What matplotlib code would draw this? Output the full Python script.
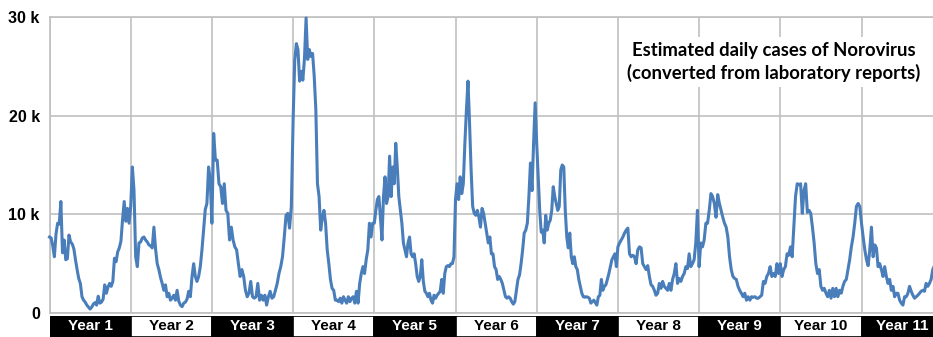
import matplotlib
matplotlib.use("Agg")
import matplotlib.pyplot as plt
import numpy as np

# estimated daily cases (thousands), one list per season, roughly weekly readings
year1 = [7.7, 7.6, 6.8, 5.7, 8.0, 9.1, 9.0, 11.3, 6.1, 7.4, 5.4, 5.5, 7.9, 7.2, 7.0,
         6.5, 5.4, 4.4, 3.5, 3.0, 1.65, 1.3, 1.1, 0.8, 0.6, 0.4, 0.6, 0.9, 1.05, 0.8,
         1.7, 1.0, 1.1, 1.4, 2.85, 2.0, 2.6, 3.0, 2.7, 3.2, 5.55, 5.2, 6.2, 6.6, 7.3,
         9.5, 11.3, 9.3, 10.6, 9.1]
year2 = [10.8, 14.8, 12.4, 5.7, 4.7, 7.1, 7.2, 7.6, 7.7, 7.4, 7.2, 6.9, 6.8, 6.6,
         8.7, 6.5, 5.0, 4.4, 3.6, 3.0, 2.3, 2.85, 1.65, 2.0, 1.3, 1.5, 1.8, 1.3, 2.3,
         1.2, 0.8, 0.64, 1.0, 1.1, 1.4, 2.2, 1.65, 3.7, 5.0, 3.7, 3.2, 3.7, 4.7, 6.4,
         8.4, 10.5, 11.1, 14.8, 13.5]
year3 = [9.1, 18.2, 15.5, 15.5, 13.1, 12.8, 11.1, 13.1, 10.4, 10.1, 7.4, 8.7, 7.4,
         6.7, 6.4, 5.0, 3.7, 4.4, 3.7, 2.3, 1.65, 2.0, 3.2, 1.65, 1.5, 1.65, 3.0, 1.3,
         1.8, 1.3, 1.8, 0.8, 1.65, 2.2, 1.5, 1.65, 2.3, 3.0, 4.0, 4.7, 5.7, 7.7, 9.9,
         10.1, 8.6, 10.8]
year4 = [19.5, 25.6, 27.3, 26.7, 23.5, 24.5, 23.6, 25.8, 29.9, 25.7, 26.7, 26.0,
         26.3, 24.0, 20.6, 13.1, 11.8, 8.4, 9.7, 10.4, 9.1, 6.4, 5.0, 3.4, 2.5, 2.3,
         1.3, 1.3, 1.15, 1.5, 1.0, 1.65, 1.3, 1.0, 1.65, 1.15, 1.5, 1.65, 1.0, 2.2,
         1.0, 3.0, 4.0, 4.7, 4.0, 5.4, 6.4, 9.1, 7.7, 9.1]
year5 = [9.1, 10.4, 11.5, 11.8, 9.7, 7.4, 11.8, 13.8, 11.1, 11.8, 15.9, 11.8, 14.8,
         13.1, 17.2, 14.8, 11.8, 10.4, 9.1, 7.1, 6.4, 5.7, 7.1, 7.7, 6.0, 5.7, 6.0,
         5.0, 3.7, 3.2, 3.7, 5.4, 3.2, 2.2, 2.0, 1.65, 2.0, 1.3, 1.0, 1.8, 1.5, 1.8,
         2.0, 2.2, 3.4, 2.0, 4.0, 4.7, 4.8, 4.7, 5.0, 5.0, 5.7]
year6 = [11.5, 13.1, 11.5, 13.8, 12.1, 13.1, 17.2, 20.6, 23.5, 19.2, 14.5, 10.8,
         10.1, 9.9, 10.4, 9.7, 8.7, 10.6, 10.1, 9.1, 8.1, 7.1, 7.7, 6.0, 6.0, 4.7, 4.4,
         3.4, 3.7, 3.4, 3.0, 2.3, 1.65, 1.5, 1.65, 1.5, 1.15, 0.9, 1.15, 2.3, 3.4,
         3.85, 5.0, 6.4, 8.1, 8.4, 9.1, 11.8, 15.2, 12.4, 17.2, 21.3]
year7 = [17.2, 13.8, 10.4, 8.2, 8.4, 7.1, 9.9, 8.4, 9.1, 9.4, 10.4, 12.8, 11.8, 11.1,
         10.4, 10.8, 14.5, 15.0, 14.8, 10.4, 7.7, 6.6, 8.1, 5.7, 5.0, 5.7, 4.7, 4.4,
         3.4, 2.7, 2.0, 1.65, 1.6, 1.65, 1.6, 1.5, 1.0, 1.15, 1.3, 1.05, 0.8, 1.65,
         1.8, 3.4, 2.3, 2.7, 2.85, 3.4, 4.0, 4.7, 5.4, 5.7, 6.0, 4.7]
year8 = [6.7, 7.1, 7.4, 7.7, 8.1, 8.4, 8.6, 6.0, 5.7, 5.85, 5.7, 5.0, 6.4, 6.7, 6.6,
         5.0, 4.7, 4.4, 4.8, 3.7, 2.85, 2.7, 2.3, 1.8, 2.0, 3.0, 2.5, 3.2, 2.7, 2.5,
         2.3, 3.0, 2.3, 3.4, 4.0, 5.0, 3.0, 3.5, 3.2, 3.7, 4.0, 4.7, 4.5, 6.0, 4.7,
         5.0, 5.4, 7.1, 10.4]
year9 = [4.7, 7.1, 6.7, 7.4, 9.1, 9.1, 10.4, 12.1, 11.8, 11.1, 9.7, 12.0, 11.1, 10.4,
         9.7, 9.1, 8.7, 7.7, 5.7, 4.4, 3.7, 3.5, 3.4, 2.7, 2.3, 2.0, 1.65, 2.0, 1.3,
         1.65, 1.3, 1.65, 1.6, 1.65, 1.5, 1.5, 1.65, 1.8, 3.2, 3.0, 3.7, 4.0, 4.7, 3.7,
         4.0, 3.7, 5.0, 4.0]
year10 = [5.0, 3.7, 4.4, 4.7, 6.0, 5.85, 6.7, 5.7, 8.7, 11.8, 13.1, 13.0, 13.1, 10.1,
          12.4, 13.1, 10.2, 10.4, 10.1, 8.7, 7.1, 5.0, 4.0, 4.4, 2.7, 2.3, 2.5, 2.0,
          1.65, 2.3, 1.5, 2.5, 1.65, 2.5, 1.65, 2.3, 2.0, 2.7, 3.2, 3.4, 4.4, 5.4, 6.7,
          7.7, 9.1, 10.8, 11.1, 10.8]
year11 = [9.1, 7.7, 6.4, 5.4, 4.8, 6.4, 8.7, 5.7, 6.9, 6.6, 4.7, 5.0, 4.4, 3.7, 4.7,
          3.7, 3.0, 3.4, 2.3, 2.7, 1.65, 2.0, 2.0, 1.3, 1.0, 0.8, 1.65, 1.65, 2.0, 2.7,
          2.2, 1.8, 1.5, 1.65, 1.8, 2.0, 2.2, 2.3, 2.2, 3.0, 2.7, 3.0, 3.4, 4.4, 4.8,
          5.2, 5.6, 6.0, 6.4]

seasons = [year1, year2, year3, year4, year5, year6, year7, year8, year9, year10, year11]
year_labels = ["Year %d" % (i + 1) for i in range(len(seasons))]
y_ticks = [0, 10000, 20000, 30000]
y_ticklabels = ["0", "10 k", "20 k", "30 k"]
title = "Estimated daily cases of Norovirus\n(converted from laboratory reports)"

# spread each season's readings evenly across its year
xs, ys = [], []
for k, vals in enumerate(seasons):
    n = len(vals)
    xs.extend(k + np.arange(n) / n)
    ys.extend(np.array(vals) * 1000)

W, H = 933, 337
fig = plt.figure(figsize=(W / 100, H / 100), dpi=100)

left = 49.5 / W
width = 11 * 81.2 / W   # last year runs past the right edge
ax = fig.add_axes([left, (H - 313) / H, width, (313 - 17) / H])
ax.plot(xs, ys, color="#4a7ebb", linewidth=2.2, solid_joinstyle="round", clip_on=False, zorder=3)

ax.set_xlim(0, len(seasons))
ax.set_ylim(0, 30000)
ax.set_xticks(range(len(seasons) + 1))
ax.set_yticks(y_ticks)
ax.set_yticklabels(y_ticklabels)
ax.tick_params(axis="x", length=0, labelbottom=False)
ax.tick_params(axis="y", length=0, pad=7)
for lbl in ax.get_yticklabels():
    lbl.set_fontfamily("Liberation Sans")
    lbl.set_fontweight("bold")
    lbl.set_fontsize(11.5)
ax.grid(True, color="#c0c0c0", linewidth=1.2)
for side in ["top", "left", "bottom"]:
    ax.spines[side].set_color("#c0c0c0")
    ax.spines[side].set_linewidth(1.2)
ax.spines["right"].set_visible(False)
ax.set_axisbelow(True)

ax.text(774 / W, 1 - 62 / H, title, transform=fig.transFigure, ha="center", va="center",
        fontfamily="Lato", fontweight="bold", fontsize=13.3, linespacing=1.3, zorder=5,
        bbox=dict(facecolor="white", edgecolor="none", pad=4))

# alternating year band under the plot
band = fig.add_axes([left, 0, width, (H - 315.5) / H])
centers = np.arange(len(seasons)) + 0.5
fills = ["black" if k % 2 == 0 else "white" for k in range(len(seasons))]
band.bar(centers, 1, width=1, color=fills, edgecolor="black", linewidth=1.2)
for k, c in enumerate(centers):
    band.text(c, 0.5, year_labels[k], ha="center", va="center",
              color="white" if k % 2 == 0 else "black",
              fontfamily="Liberation Sans", fontweight="bold", fontsize=11)
band.set_xlim(0, len(seasons))
band.set_ylim(0, 1)
band.axis("off")

fig.savefig("out.png", dpi=100)
